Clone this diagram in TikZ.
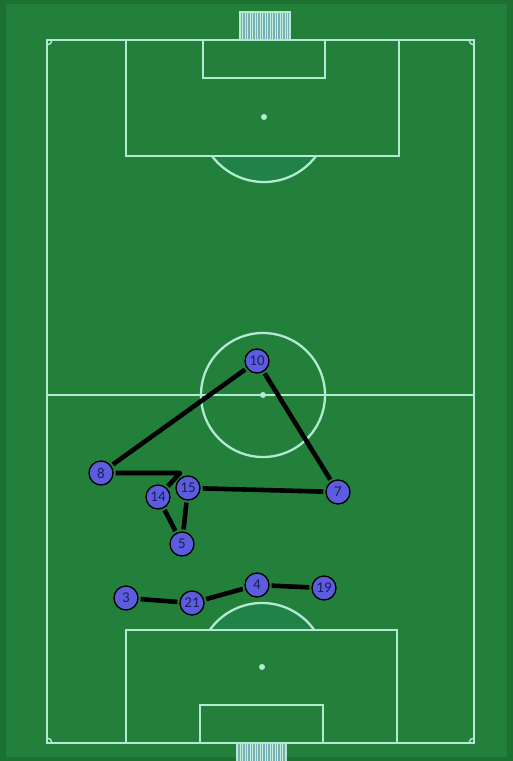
\documentclass[tikz,border=0pt]{standalone}
\usepackage{fontspec}
\newfontfamily\numfont{Carlito}
\begin{document}
\begin{tikzpicture}[x=1pt,y=-1pt,
  fieldline/.style={draw=fieldwhite,line width=2.3pt},
  player/.style={circle,draw=black,line width=1.3pt,fill=playerblue,minimum size=24pt,inner sep=0pt,font=\numfont\fontsize{15}{15}\selectfont,text=numnavy},
  link/.style={draw=black,line width=4.6pt,shorten <=2pt,shorten >=2pt}]
\definecolor{turf}{RGB}{34,128,58}
\definecolor{turfdark}{RGB}{28,112,50}
\definecolor{fieldwhite}{RGB}{178,235,210}
\definecolor{playerblue}{RGB}{92,92,222}
\definecolor{numnavy}{RGB}{30,30,90}
\definecolor{netblue}{RGB}{120,175,180}
\definecolor{darea}{RGB}{32,130,70}
% background
\useasboundingbox (0,0) rectangle (513,761);
\fill[turfdark] (0,0) rectangle (513,761);
\fill[turf] (6,4) rectangle (507,757);
% penalty arcs interior (slightly teal)
\begin{scope}
\clip (126,156) rectangle (399,200);
\fill[darea] (264,117) circle[radius=65];
\end{scope}
\begin{scope}
\clip (126,590) rectangle (397,630);
\fill[darea] (262,667) circle[radius=64];
\end{scope}
% goals
\fill[netblue] (240,12) rectangle (290,40);
\draw[fieldwhite!80,line width=0.5pt,step=2.5] (240,12) grid (290,40);
\draw[fieldwhite,line width=1.4pt] (240,40) -- (240,12) -- (290,12) -- (290,40);
\fill[netblue] (237,743) rectangle (286,761);
\draw[fieldwhite!80,line width=0.5pt,step=2.5] (237,743) grid (286,761);
\draw[fieldwhite,line width=1.4pt] (237,761) -- (237,743) -- (286,743) -- (286,761);
% field
\draw[fieldline] (47,40) rectangle (474,743);
\draw[fieldline] (47,395) -- (474,395);
\draw[fieldline] (263,395) circle[radius=62];
\fill[fieldwhite] (263,395) circle[radius=3];
% top
\draw[fieldline] (126,40) rectangle (399,156);
\draw[fieldline] (203,40) rectangle (325,78);
\fill[fieldwhite] (264,117) circle[radius=3];
\begin{scope}
\clip (126,156) rectangle (399,200);
\draw[fieldline] (264,117) circle[radius=65];
\end{scope}
% bottom
\draw[fieldline] (126,630) rectangle (397,743);
\draw[fieldline] (200,705) rectangle (323,743);
\fill[fieldwhite] (262,667) circle[radius=3];
\begin{scope}
\clip (126,590) rectangle (397,630);
\draw[fieldline] (262,667) circle[radius=64];
\end{scope}
% corners
\draw[fieldwhite,line width=1.4pt] (47,45) arc[start angle=90,end angle=0,radius=5];
\draw[fieldwhite,line width=1.4pt] (469,40) arc[start angle=180,end angle=90,radius=5];
\draw[fieldwhite,line width=1.4pt] (47,738) arc[start angle=-90,end angle=0,radius=5];
\draw[fieldwhite,line width=1.4pt] (469,743) arc[start angle=180,end angle=270,radius=5];
% players
\node[player] (p10) at (257,361) {10};
\node[player] (p8) at (101,473) {8};
\node[player] (p15) at (188,488) {15};
\node[player] (p14) at (158,497) {14};
\node[player] (p7) at (338,492) {7};
\node[player] (p5) at (182,544) {5};
\node[player] (p3) at (126,598) {3};
\node[player] (p21) at (192,603) {21};
\node[player] (p4) at (257,585) {4};
\node[player] (p19) at (324,588) {19};
\coordinate (elbow) at (180,473);
% links
\draw[link] (p8) -- (p10);
\draw[link] (p10) -- (p7);
\draw[link,line join=round] (p8) -- (elbow) -- (p14);
\draw[link] (p15) -- (p7);
\draw[link] (p14) -- (p5);
\draw[link] (p15) -- (p5);
\draw[link] (p3) -- (p21);
\draw[link] (p21) -- (p4);
\draw[link] (p4) -- (p19);
\end{tikzpicture}
\end{document}
